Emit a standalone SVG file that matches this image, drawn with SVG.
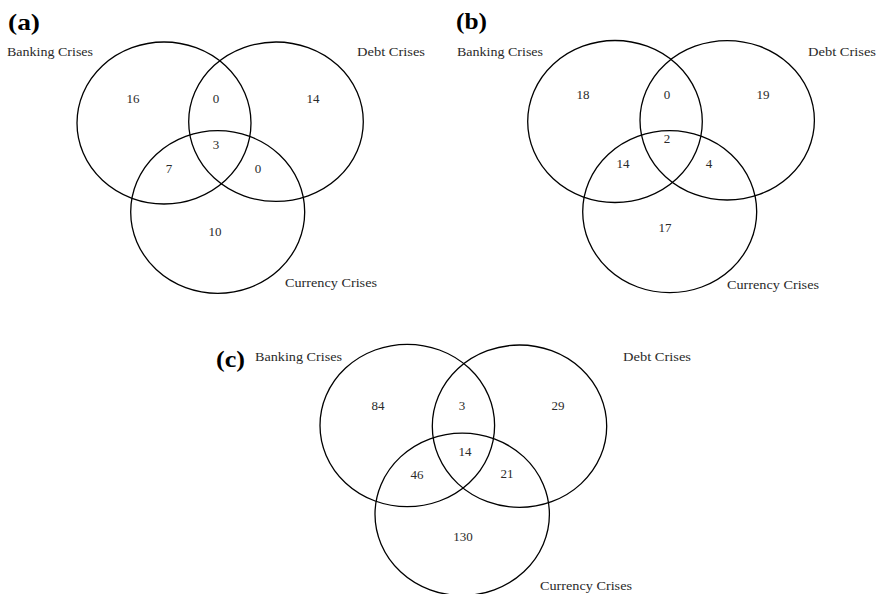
<svg xmlns="http://www.w3.org/2000/svg" width="879" height="594" viewBox="0 0 879 594">
<style>
.c{fill:none;stroke:#000;stroke-width:1.3}
.l{font-family:"Liberation Serif",serif;font-size:13.5px;fill:#2a2a2a}
.n{font-family:"Liberation Serif",serif;font-size:13px;fill:#2a2a2a;text-anchor:middle}
.p{font-family:"Liberation Serif",serif;font-size:24px;font-weight:bold;fill:#000}
</style>
<rect width="879" height="594" fill="#fff"/>
<g id="panel-a">
<text class="p" x="8" y="30" textLength="32" lengthAdjust="spacingAndGlyphs">(a)</text>
<g id="a-banking"><ellipse class="c" cx="164" cy="123" rx="87" ry="81"/><text class="l" x="7" y="56" textLength="86" lengthAdjust="spacingAndGlyphs">Banking Crises</text></g>
<g id="a-debt"><ellipse class="c" cx="276" cy="121.7" rx="87.3" ry="79.7"/><text class="l" x="357" y="56" textLength="68" lengthAdjust="spacingAndGlyphs">Debt Crises</text></g>
<g id="a-currency"><ellipse class="c" cx="217.7" cy="212" rx="87" ry="81.3"/><text class="l" x="285" y="287" textLength="92" lengthAdjust="spacingAndGlyphs">Currency Crises</text></g>
<g id="a-counts">
<text class="n" x="133" y="103">16</text>
<text class="n" x="216" y="103">0</text>
<text class="n" x="313" y="103">14</text>
<text class="n" x="216" y="149">3</text>
<text class="n" x="169" y="173">7</text>
<text class="n" x="258" y="173">0</text>
<text class="n" x="215" y="236">10</text>
</g>
</g>
<g id="panel-b">
<text class="p" x="456" y="29" textLength="31" lengthAdjust="spacingAndGlyphs">(b)</text>
<g id="b-banking"><ellipse class="c" cx="615" cy="121.5" rx="87.3" ry="81"/><text class="l" x="457" y="56" textLength="86" lengthAdjust="spacingAndGlyphs">Banking Crises</text></g>
<g id="b-debt"><ellipse class="c" cx="727.2" cy="120.3" rx="87.2" ry="79.7"/><text class="l" x="808" y="56" textLength="68" lengthAdjust="spacingAndGlyphs">Debt Crises</text></g>
<g id="b-currency"><ellipse class="c" cx="669.7" cy="211.7" rx="87" ry="81"/><text class="l" x="727" y="289" textLength="92" lengthAdjust="spacingAndGlyphs">Currency Crises</text></g>
<g id="b-counts">
<text class="n" x="583" y="99">18</text>
<text class="n" x="667" y="99">0</text>
<text class="n" x="763" y="99">19</text>
<text class="n" x="667" y="143">2</text>
<text class="n" x="623" y="168">14</text>
<text class="n" x="709" y="168">4</text>
<text class="n" x="665" y="232">17</text>
</g>
</g>
<g id="panel-c">
<text class="p" x="216" y="367" textLength="29" lengthAdjust="spacingAndGlyphs">(c)</text>
<g id="c-banking"><ellipse class="c" cx="407.3" cy="425.5" rx="87.3" ry="81.2"/><text class="l" x="255" y="361" textLength="87" lengthAdjust="spacingAndGlyphs">Banking Crises</text></g>
<g id="c-debt"><ellipse class="c" cx="519.5" cy="426.2" rx="87.2" ry="81.2"/><text class="l" x="623" y="361" textLength="68" lengthAdjust="spacingAndGlyphs">Debt Crises</text></g>
<g id="c-currency"><ellipse class="c" cx="462.2" cy="514.3" rx="87.2" ry="81.2"/><text class="l" x="540" y="590" textLength="92" lengthAdjust="spacingAndGlyphs">Currency Crises</text></g>
<g id="c-counts">
<text class="n" x="378" y="410">84</text>
<text class="n" x="462" y="410">3</text>
<text class="n" x="558" y="410">29</text>
<text class="n" x="465" y="456">14</text>
<text class="n" x="417" y="479">46</text>
<text class="n" x="507" y="478">21</text>
<text class="n" x="463" y="541">130</text>
</g>
</g>
</svg>
